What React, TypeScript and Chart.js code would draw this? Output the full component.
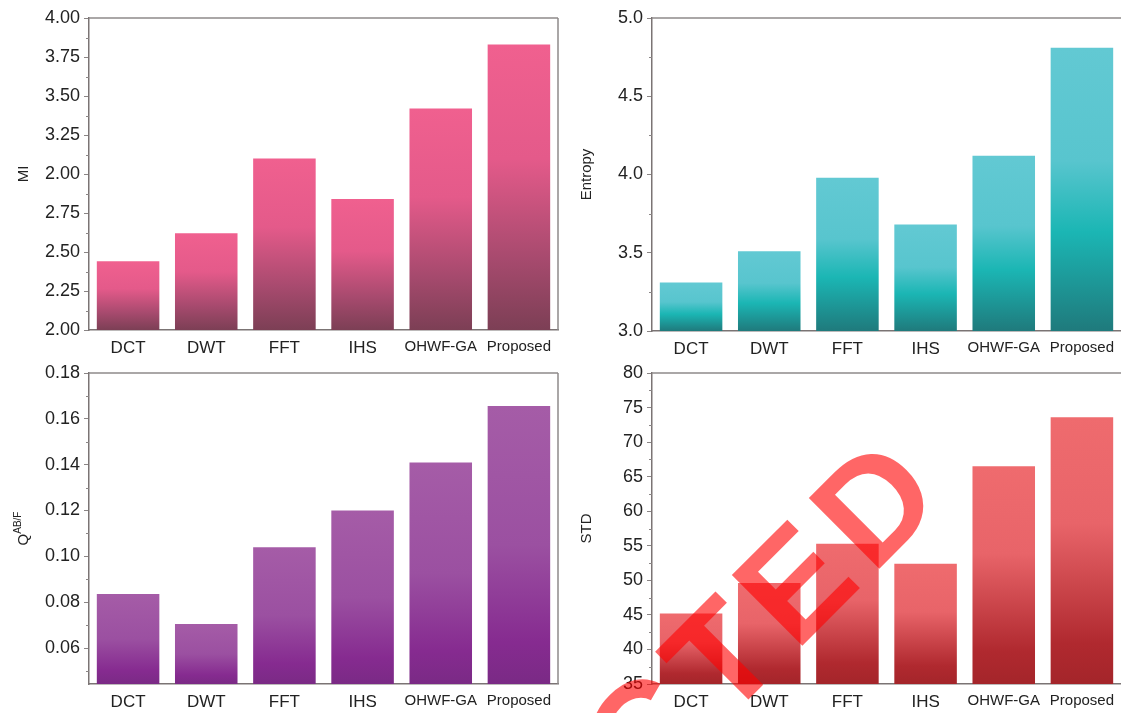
import React, { useEffect, useRef } from "react";
import { Chart, registerables } from "chart.js";

Chart.register(...registerables);

// ---------- data ----------
const CATEGORIES = ["DCT", "DWT", "FFT", "IHS", "OHWF-GA", "Proposed"];

const MI_VALUES = [2.44, 2.62, 3.1, 2.84, 3.42, 3.83];
const ENTROPY_VALUES = [3.31, 3.51, 3.98, 3.68, 4.12, 4.81];
const QABF_VALUES = [0.0836, 0.0705, 0.104, 0.12, 0.141, 0.1656];
const STD_VALUES = [45.2, 49.6, 55.3, 52.4, 66.5, 73.6];

const MI_TICKS = [2.0, 2.25, 2.5, 2.75, 3.0, 3.25, 3.5, 3.75, 4.0];
const MI_TICK_LABELS = ["2.00", "2.25", "2.50", "2.75", "2.00", "3.25", "3.50", "3.75", "4.00"];
const ENTROPY_TICKS = [3.0, 3.5, 4.0, 4.5, 5.0];
const ENTROPY_TICK_LABELS = ["3.0", "3.5", "4.0", "4.5", "5.0"];
const QABF_TICKS = [0.06, 0.08, 0.1, 0.12, 0.14, 0.16, 0.18];
const QABF_TICK_LABELS = ["0.06", "0.08", "0.10", "0.12", "0.14", "0.16", "0.18"];
const STD_TICKS = [35, 40, 45, 50, 55, 60, 65, 70, 75, 80];
const STD_TICK_LABELS = ["35", "40", "45", "50", "55", "60", "65", "70", "75", "80"];

const WATERMARK = "RETRACTED";

// ---------- styling ----------
const FONT = '"Liberation Sans", Arial, Helvetica, sans-serif';
const AXIS_COLOR = "#7b7474";
const TEXT_COLOR = "#222222";

type Stop = [number, string];

interface PanelCfg {
  left: number;
  top: number;
  width: number;
  height: number;
  values: number[];
  ticks: number[];
  tickLabels: string[];
  min: number;
  max: number;
  minorStep: number;
  title: string;
  titleSup?: string;
  stops: Stop[];
  padTop: number;
  padRight: number;
  xHeight: number;
  rightBorder: boolean;
  watermark?: boolean;
}

const PANELS: PanelCfg[] = [
  {
    left: 0, top: 0, width: 560, height: 356,
    values: MI_VALUES, ticks: MI_TICKS, tickLabels: MI_TICK_LABELS,
    min: 2.0, max: 4.0, minorStep: 0.125, title: "MI",
    stops: [[0, "#f0608f"], [0.4, "#e45a8a"], [0.75, "#a74a6e"], [1, "#7c3f55"]],
    padTop: 18, padRight: 2, xHeight: 26, rightBorder: true,
  },
  {
    left: 563, top: 0, width: 558, height: 356,
    values: ENTROPY_VALUES, ticks: ENTROPY_TICKS, tickLabels: ENTROPY_TICK_LABELS,
    min: 3.0, max: 5.0, minorStep: 0.25, title: "Entropy",
    stops: [[0, "#62c9d3"], [0.4, "#58c5ce"], [0.65, "#1bb6b4"], [1, "#1f7a7c"]],
    padTop: 18, padRight: 0, xHeight: 25, rightBorder: false,
  },
  {
    left: 0, top: 356, width: 560, height: 357,
    values: QABF_VALUES, ticks: QABF_TICKS, tickLabels: QABF_TICK_LABELS,
    min: 0.0443, max: 0.18, minorStep: 0.01, title: "Q", titleSup: "AB/F",
    stops: [[0, "#a55ca7"], [0.5, "#9b50a1"], [0.85, "#862b90"], [1, "#7a2a85"]],
    padTop: 17, padRight: 2, xHeight: 29, rightBorder: true,
  },
  {
    left: 563, top: 356, width: 558, height: 357,
    values: STD_VALUES, ticks: STD_TICKS, tickLabels: STD_TICK_LABELS,
    min: 35, max: 80, minorStep: 2.5, title: "STD",
    stops: [[0, "#ef6b6e"], [0.4, "#e86469"], [0.85, "#b0292f"], [1, "#a4252a"]],
    padTop: 17, padRight: 0, xHeight: 29, rightBorder: false, watermark: true,
  },
];

function makeFramePlugin(cfg: PanelCfg) {
  return {
    id: "frameAndExtras",
    afterDatasetsDraw(chart: any) {
      const { ctx, chartArea } = chart;
      const y = chart.scales.y;
      ctx.save();
      // top border & right border
      ctx.strokeStyle = "#8e8a8a";
      ctx.lineWidth = 1.5;
      ctx.beginPath();
      ctx.moveTo(chartArea.left, chartArea.top);
      ctx.lineTo(chartArea.right, chartArea.top);
      if (cfg.rightBorder) {
        ctx.moveTo(chartArea.right, chartArea.top);
        ctx.lineTo(chartArea.right, chartArea.bottom);
      }
      ctx.stroke();
      // minor ticks
      ctx.strokeStyle = "#8a8585";
      ctx.lineWidth = 1;
      ctx.beginPath();
      const kStart = Math.ceil(cfg.min / cfg.minorStep - 1e-6);
      const kEnd = Math.floor(cfg.max / cfg.minorStep + 1e-6);
      for (let k = kStart; k <= kEnd; k++) {
        const v = k * cfg.minorStep;
        if (cfg.ticks.some((t) => Math.abs(t - v) < cfg.minorStep * 1e-3)) continue;
        const py = Math.round(y.getPixelForValue(v)) + 0.5;
        ctx.moveTo(chartArea.left - 3, py);
        ctx.lineTo(chartArea.left, py);
      }
      ctx.stroke();
      // y-axis title (with optional superscript)
      const cy = (chartArea.top + chartArea.bottom) / 2;
      ctx.translate(23, cy);
      ctx.rotate(-Math.PI / 2);
      ctx.fillStyle = TEXT_COLOR;
      ctx.textBaseline = "middle";
      ctx.font = `15px ${FONT}`;
      const mainW = ctx.measureText(cfg.title).width;
      let supW = 0;
      if (cfg.titleSup) {
        ctx.font = `10px ${FONT}`;
        supW = ctx.measureText(cfg.titleSup).width;
      }
      const total = mainW + supW;
      ctx.font = `15px ${FONT}`;
      ctx.textAlign = "left";
      ctx.fillText(cfg.title, -total / 2, 1);
      if (cfg.titleSup) {
        ctx.font = `10px ${FONT}`;
        ctx.fillText(cfg.titleSup, -total / 2 + mainW, -5);
      }
      ctx.restore();
    },
    afterDraw(chart: any) {
      if (!cfg.watermark) return;
      const { ctx } = chart;
      ctx.save();
      ctx.translate(392, 137);
      ctx.rotate(-Math.PI / 4);
      ctx.font = `bold 145px ${FONT}`;
      (ctx as any).letterSpacing = "12px";
      ctx.fillStyle = "rgba(255, 0, 0, 0.6)";
      ctx.textAlign = "right";
      ctx.textBaseline = "alphabetic";
      ctx.fillText(WATERMARK, 0, 0);
      ctx.restore();
    },
  };
}

function Panel({ cfg }: { cfg: PanelCfg }) {
  const ref = useRef<HTMLCanvasElement | null>(null);
  useEffect(() => {
    if (!ref.current) return;
    const gradient = (c: any) => {
      const chart = c.chart;
      const area = chart.chartArea;
      if (!area || c.type !== "data") return cfg.stops[0][1];
      const ys = chart.scales.y;
      const top = ys.getPixelForValue(c.raw);
      const bottom = ys.getPixelForValue(ys.min);
      if (!isFinite(top) || !isFinite(bottom) || top === bottom) return cfg.stops[0][1];
      const g = chart.ctx.createLinearGradient(0, top, 0, bottom);
      cfg.stops.forEach(([o, col]) => g.addColorStop(o, col));
      return g;
    };
    const chart = new Chart(ref.current, {
      type: "bar",
      data: {
        labels: CATEGORIES,
        datasets: [
          {
            data: cfg.values,
            backgroundColor: gradient,
            borderWidth: 0,
            barPercentage: 0.8,
            categoryPercentage: 1,
          },
        ],
      },
      options: {
        responsive: false,
        animation: false,
        devicePixelRatio: 1,
        layout: { padding: { top: cfg.padTop, right: cfg.padRight, left: 0, bottom: 0 } },
        plugins: { legend: { display: false }, tooltip: { enabled: false } },
        scales: {
          x: {
            grid: { display: false, drawTicks: false },
            border: { display: true, color: AXIS_COLOR, width: 1.5 },
            ticks: {
              color: TEXT_COLOR,
              padding: 8,
              maxRotation: 0,
              minRotation: 0,
              autoSkip: false,
              font: (c: any) => ({ family: FONT, size: c.index >= 4 ? 15 : 17 }),
            },
            afterFit: (s: any) => {
              s.height = cfg.xHeight;
              s.paddingLeft = 0;
              s.paddingRight = 0;
            },
          },
          y: {
            min: cfg.min,
            max: cfg.max,
            afterBuildTicks: (s: any) => {
              s.ticks = cfg.ticks.map((v) => ({ value: v }));
            },
            afterFit: (s: any) => {
              s.width = 89;
            },
            grid: { drawOnChartArea: false, drawTicks: true, tickLength: 5, color: "#8a8585", lineWidth: 1 },
            border: { display: true, color: AXIS_COLOR, width: 1.5 },
            ticks: {
              color: TEXT_COLOR,
              padding: 4,
              autoSkip: false,
              font: { family: FONT, size: 18 },
              callback: (val: any) => {
                const i = cfg.ticks.findIndex((t) => Math.abs(t - Number(val)) < 1e-9);
                return i >= 0 ? cfg.tickLabels[i] : "";
              },
            },
          },
        },
      },
      plugins: [makeFramePlugin(cfg)],
    } as any);
    return () => chart.destroy();
  }, [cfg]);
  return (
    <canvas
      ref={ref}
      width={cfg.width}
      height={cfg.height}
      style={{ position: "absolute", left: cfg.left, top: cfg.top, width: cfg.width, height: cfg.height }}
    />
  );
}

export default function App() {
  return (
    <div
      style={{
        position: "fixed",
        left: 0,
        top: 0,
        width: 1121,
        height: 713,
        background: "#ffffff",
        overflow: "hidden",
      }}
    >
      {PANELS.map((p, i) => (
        <Panel key={i} cfg={p} />
      ))}
    </div>
  );
}
